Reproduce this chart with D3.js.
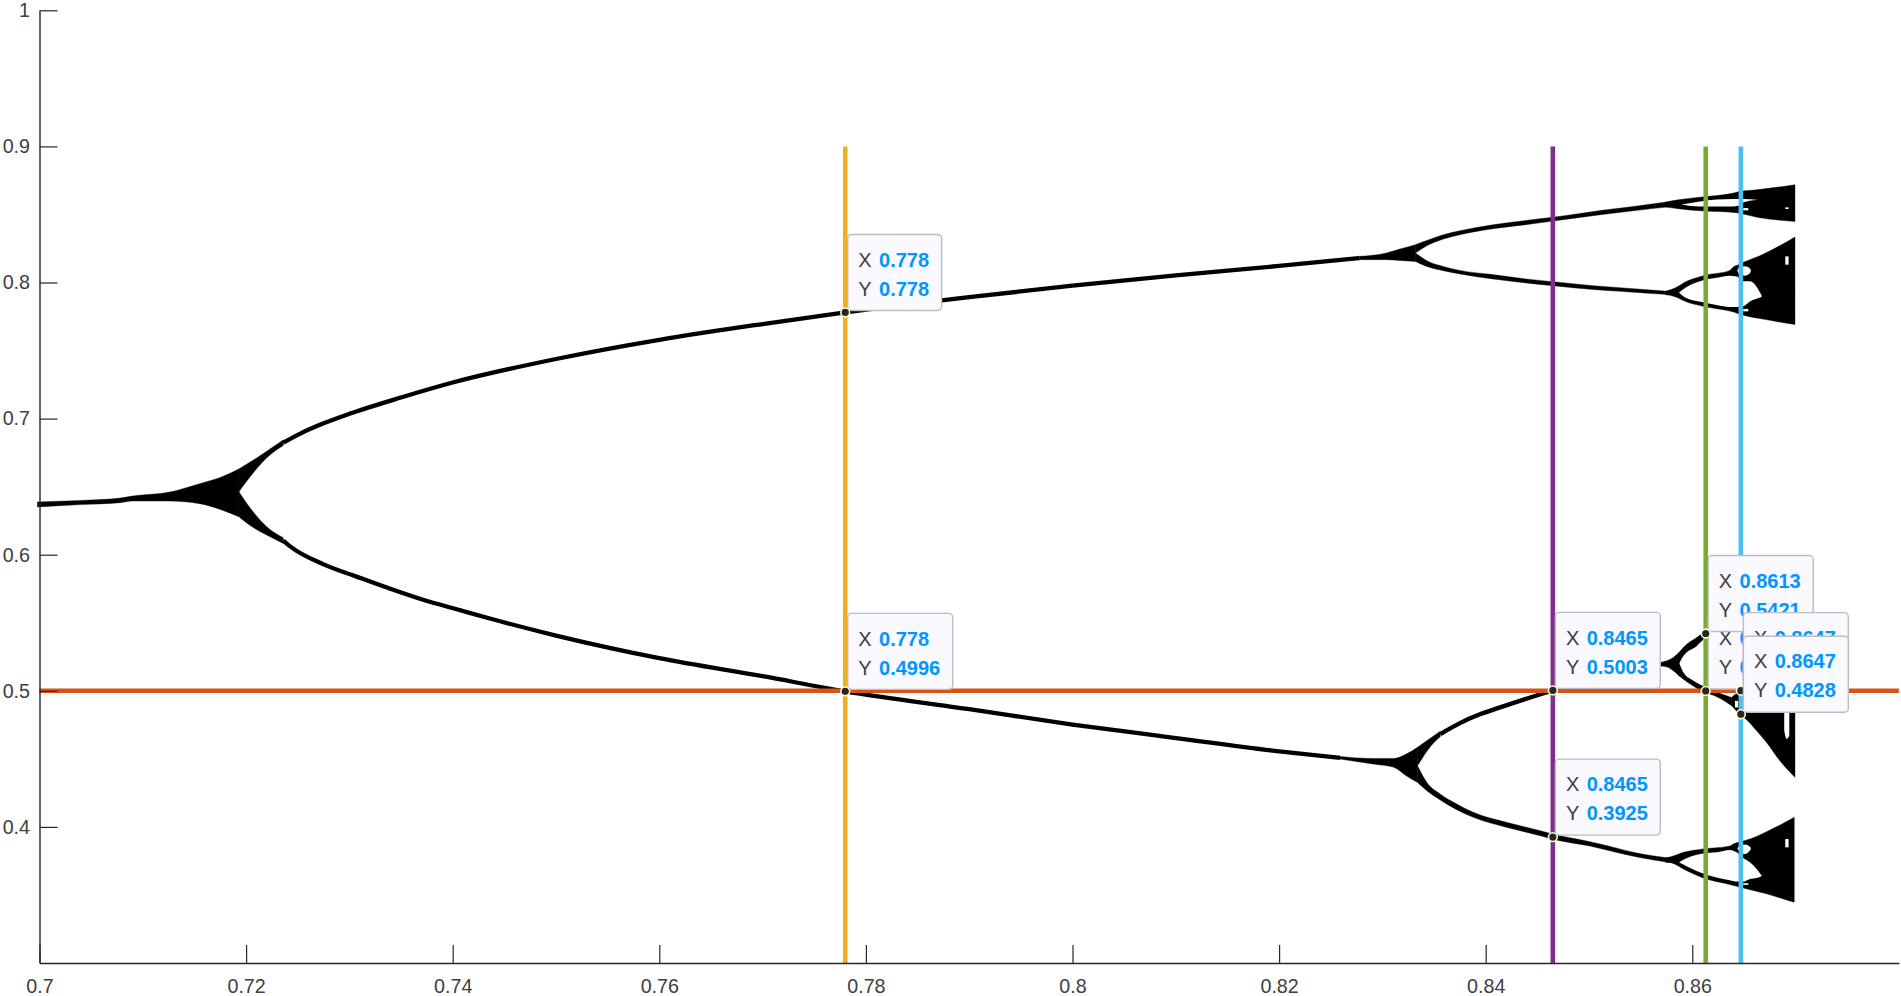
<!DOCTYPE html>
<html>
<head>
<meta charset="utf-8">
<script src="https://cdn.jsdelivr.net/npm/d3@7"></script>
<style>
html,body{margin:0;padding:0;background:#fff;overflow:hidden}
svg{display:block}
text{font-family:"Liberation Sans",Arial,sans-serif}
</style>
</head>
<body>
<svg id="chart" width="1901" height="996"></svg>
<script>
// ---------- values ----------
const xTicks = [0.7,0.72,0.74,0.76,0.78,0.8,0.82,0.84,0.86];
const xTickLabels = ["0.7","0.72","0.74","0.76","0.78","0.8","0.82","0.84","0.86"];
const yTicks = [0.4,0.5,0.6,0.7,0.8,0.9,1];
const yTickLabels = ["0.4","0.5","0.6","0.7","0.8","0.9","1"];

// black bands: [parameter, top of band, bottom of band]
const stemBand = [[.6998,.6388,.6351],[.7040,.6399,.6368],[.7078,.6416,.6382],[.7090,.6431,.6394],[.7126,.6460,.6394],[.7155,.6522,.6375],[.7175,.6568,.6333],[.7193,.6630,.6279]];
const stemUpperArm = [[.7193,.6630,.6463],[.7207,.6695,.6602],[.7220,.6761,.6712],[.7236,.6843,.6803]];
const stemLowerArm = [[.7193,.6463,.6279],[.7207,.6313,.6199],[.7220,.6206,.6144],[.7236,.6125,.6083]];

const topStem = [[.8278,.8192,.8168],[.8304,.8217,.8168],[.8317,.8246,.8162],[.8332,.8278,.8155]];
const topUpperArm = [[.8332,.8278,.8217],[.8343,.8309,.8270],[.8359,.8351,.8319],[.8375,.8380,.8351],[.8407,.8424,.8395],[.8439,.8456,.8425],[.8465,.8479,.8451],[.8511,.8529,.8498],[.8543,.8559,.8527],[.8575,.8591,.8554]];
const topLowerArm = [[.8332,.8217,.8155],[.8343,.8160,.8118],[.8359,.8118,.8087],[.8375,.8089,.8063],[.8407,.8058,.8026],[.8439,.8026,.7997],[.8465,.8006,.7977],[.8504,.7977,.7948],[.8530,.7962,.7935],[.8577,.7935,.7911]];

const lowStem = [[.8259,.4518,.4498],[.8291,.4503,.4462],[.8311,.4503,.4438],[.8323,.4535,.4376],[.8334,.4585,.4327]];
const lowUpperFan = [[.8334,.4585,.4449],[.8347,.4655,.4595],[.8356,.4702,.4662]];
const lowLowerArm = [[.8334,.4449,.4327],[.8343,.4327,.4266],[.8356,.4242,.4198],[.8372,.4168,.4126],[.8388,.4107,.4070],[.8420,.4034,.3997],[.8453,.3972,.3935],[.8465,.3947,.3910],[.8501,.3891,.3859],[.8527,.3844,.3812],[.8543,.3813,.3784],[.8577,.3772,.3740]];

const chaosTop = [[.8574,.8591,.8554],[.85864,.8608,.8542],[.86074,.8627,.8527],[.86397,.8657,.8515],[.86445,.8667,.8510],[.86623,.8681,.8480],[.86994,.8718,.8449]];
const chaosSecond = [[.8574,.7935,.7911],[.85864,.7972,.7886],[.85913,.7996,.7867],[.86106,.8050,.7825],[.86364,.8089,.7790],[.86397,.8114,.7784],[.86445,.8131,.7771],[.86493,.8148,.7760],[.86655,.8197,.7735],[.86994,.8334,.7691]];
const chaosLowest = [[.8574,.3772,.3740],[.85800,.3782,.3735],[.85913,.3813,.3691],[.86106,.3838,.3625],[.86364,.3860,.3576],[.86397,.3875,.3569],[.86445,.3887,.3561],[.86558,.3911,.3539],[.86719,.3965,.3508],[.86881,.4026,.3471],[.86987,.4070,.3447]];

const midFan = [[.85687,.5208,.5183],[.85751,.5220,.5176],[.85816,.5245,.5147],[.85871,.5281,.5110]];
const midUpperArm = [[.85871,.5281,.5203],[.85913,.5318,.5257],[.86042,.5391,.5330],[.86132,.5433,.5391],[.86397,.5470,.5430]];
const midLowerArm = [[.85871,.5203,.5110],[.85913,.5134,.5085],[.86009,.5073,.5036],[.86132,.5024,.4983],[.86203,.5000,.4968],[.86381,.4951,.4890]];
const chaosMiddle = [[.86381,.4951,.4890],[.86397,.4963,.4878],[.86445,.4990,.4836],[.86526,.5010,.4787],[.86623,.5100,.4706],[.86719,.5150,.4621],[.86848,.5250,.4486],[.86994,.5379,.4364]];

// white gaps inside the black: [parameter, top of gap, bottom of gap]
const gapTopWedge = [[.85896,.8574,.8574],[.86074,.8596,.8559],[.86397,.8613,.8559],[.86445,.8613,.8564],[.86493,.8613,.8588],[.86623,.8608,.8606]];
const gapTopDash = [[.86493,.8547,.8530],[.86542,.8547,.8530]];
const gapTopSpeck = [[.86900,.8552,.8540],[.86932,.8552,.8540]];
const gapSecondLarge = [[.85874,.7928,.7923],[.85945,.7967,.7885],[.86106,.8016,.7855],[.86235,.8035,.7835],[.86364,.8050,.7820],[.86429,.8045,.7820],[.86493,.8009,.7825],[.86558,.8009,.7860],[.86671,.7905,.7894]];
const gapSecondRing = [[.86435,.8089,.8089],[.86461,.8114,.8058],[.86510,.8119,.8050],[.86558,.8102,.8070],[.86568,.8087,.8087]];
const gapSecondDash = [[.86493,.7806,.7788],[.86542,.7806,.7788]];
const gapSecondSpeck = [[.86900,.8192,.8131],[.86932,.8192,.8131]];
const gapLowestLarge = [[.85874,.3740,.3738],[.85945,.3769,.3711],[.86106,.3804,.3657],[.86235,.3813,.3628],[.86364,.3831,.3608],[.86429,.3813,.3598],[.86493,.3772,.3598],[.86558,.3740,.3618],[.86623,.3691,.3625],[.86671,.3642,.3640]];
const gapLowestRing = [[.86435,.3843,.3843],[.86461,.3862,.3818],[.86510,.3870,.3801],[.86558,.3855,.3826],[.86568,.3840,.3840]];
const gapLowestDash = [[.86493,.3586,.3574],[.86542,.3586,.3574]];
const gapLowestSpeck = [[.86900,.3911,.3850],[.86932,.3911,.3850]];
const gapMiddleStripe = [[.86890,.4846,.4706],[.86913,.4846,.4645],[.86939,.4846,.4670]];
const gapMiddleLoop = [[.86413,.4926,.4878],[.86445,.4926,.4878]];

const blackBands = [stemBand,stemUpperArm,stemLowerArm,topStem,topUpperArm,topLowerArm,lowStem,lowUpperFan,lowLowerArm,chaosTop,chaosSecond,chaosLowest,midFan,midUpperArm,midLowerArm,chaosMiddle];
const whiteGaps = [gapTopWedge,gapTopDash,gapTopSpeck,gapSecondLarge,gapSecondRing,gapSecondDash,gapSecondSpeck,gapLowestLarge,gapLowestRing,gapLowestDash,gapLowestSpeck,gapMiddleStripe,gapMiddleLoop];

// thin curves: [parameter, value]
const upperBranch = [[.7236,.6823],[.7252,.6888],[.7275,.6965],[.73,.7035],[.735,.7155],[.74,.7265],[.75,.7438],[.76,.7579],[.77,.7695],[.778,.778],[.79,.7892],[.80,.7977],[.81,.8052],[.82,.8122],[.8278,.818]];
const lowerBranch = [[.7236,.6104],[.7243,.6059],[.7275,.5929],[.7307,.5839],[.7339,.5751],[.7372,.5667],[.7404,.5599],[.7436,.5531],[.75,.5406],[.76,.524],[.77,.5107],[.778,.4996],[.79,.4865],[.80,.4752],[.81,.4653],[.82,.4555],[.8259,.4508]];
const midRisingBranch = [[.8356,.4682],[.8375,.4763],[.8395,.4829],[.8414,.4878],[.8433,.4926],[.8453,.4975],[.8465,.5003],[.85,.5075],[.854,.515],[.8569,.5196]];

const vLineX = [0.778,0.8465,0.8613,0.8647];
const vLineColors = ["#EDB120","#7E2F8E","#77AC30","#4DBEEE"];
const hLineY = 0.5;
const tipX = [0.778,0.778,0.8465,0.8465,0.8613,0.8613,0.8647,0.8647];
const tipY = [0.778,0.4996,0.5003,0.3925,0.4999,0.5421,0.5001,0.4828];

// ---------- scales ----------
const x = d3.scaleLinear().domain([0.7,0.88]).range([39.5,1898.9]);
const y = d3.scaleLinear().domain([0.3,1]).range([963,10.3]);
const svg = d3.select("#chart");

// ---------- marks ----------
const area = d3.area().x(d=>x(d[0])).y0(d=>y(d[2])).y1(d=>y(d[1])).curve(d3.curveMonotoneX);
const line = d3.line().x(d=>x(d[0])).y(d=>y(d[1])).curve(d3.curveMonotoneX);

svg.append("g").selectAll("path").data(blackBands).join("path")
  .attr("d",area).attr("fill","#000").attr("stroke","#000").attr("stroke-width",0.4);
svg.append("g").selectAll("path").data([upperBranch,lowerBranch,midRisingBranch]).join("path")
  .attr("d",line).attr("fill","none").attr("stroke","#000").attr("stroke-width",4.3);
svg.append("g").selectAll("path").data(whiteGaps).join("path")
  .attr("d",area).attr("fill","#fff");

// guide lines
svg.append("line").attr("x1",x(0.7)).attr("x2",x(0.88)).attr("y1",y(hLineY)).attr("y2",y(hLineY))
  .attr("stroke","#D95319").attr("stroke-width",4.4);
svg.append("g").selectAll("line").data(vLineX).join("line")
  .attr("x1",d=>x(d)).attr("x2",d=>x(d)).attr("y1",y(0.9)).attr("y2",y(0.3))
  .attr("stroke",(d,i)=>vLineColors[i]).attr("stroke-width",4.6);

// ---------- axes ----------
const axB = d3.axisBottom(x).tickValues(xTicks).tickFormat((d,i)=>xTickLabels[i]).tickSizeInner(-18).tickSizeOuter(0).tickPadding(16);
const axL = d3.axisLeft(y).tickValues(yTicks).tickFormat((d,i)=>yTickLabels[i]).tickSizeInner(-18).tickSizeOuter(0).tickPadding(9.5);
const gB = svg.append("g").attr("transform",`translate(0,${y(0.3)})`).call(axB);
const gL = svg.append("g").attr("transform",`translate(${x(0.7)},0)`).call(axL);
[gB,gL].forEach(g=>{
  g.selectAll("text").attr("font-size",19.7).attr("fill","#404040").style("font-family",'"Liberation Sans",Arial,sans-serif');
  g.selectAll("line").attr("stroke","#262626").attr("stroke-width",1.2);
  g.select(".domain").attr("stroke","#262626").attr("stroke-width",1.4);
});

// ---------- data tips ----------
const tips = svg.append("g");
tipX.forEach((vx,i)=>{
  const vy = tipY[i], px = x(vx), py = y(vy);
  const g = tips.append("g");
  const rect = g.append("rect").attr("rx",4).attr("ry",4)
    .attr("fill","#f9f9ff").attr("stroke","#bdbdbd").attr("stroke-width",1.4);
  const left = px+2.5, top = py-78, h = 76;
  const rows = [["X",vx,25],["Y",vy,54]];
  let maxRight = 0;
  rows.forEach(r=>{
    g.append("text").attr("x",left+10.6).attr("y",top+r[2]).attr("dy","0.36em")
      .attr("font-size",20).attr("fill","#404040").text(r[0]);
    const t = g.append("text").attr("x",left+31.3).attr("y",top+r[2]).attr("dy","0.36em")
      .attr("font-size",20).attr("font-weight","bold").attr("fill","#0096ff").text(String(r[1]));
    maxRight = Math.max(maxRight,left+31.3+t.node().getComputedTextLength());
  });
  rect.attr("x",left).attr("y",top).attr("width",maxRight+12.5-left).attr("height",h);
  g.append("circle").attr("cx",px).attr("cy",py).attr("r",4.4)
    .attr("fill","#262626").attr("stroke","#ffffd0").attr("stroke-width",1.6);
});
</script>
</body>
</html>
